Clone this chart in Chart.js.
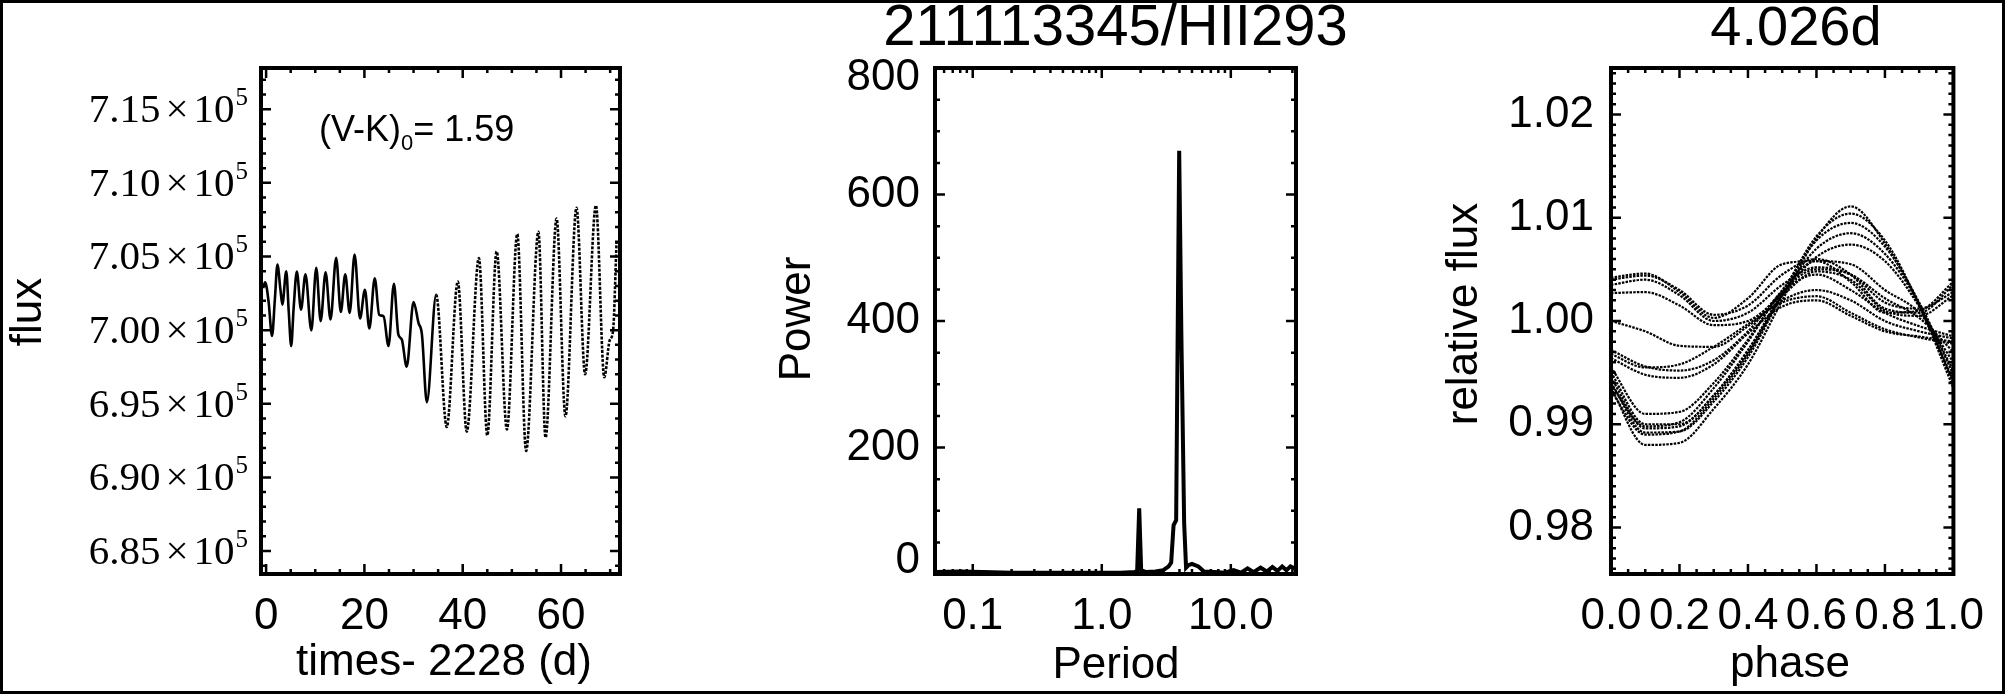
<!DOCTYPE html>
<html>
<head>
<meta charset="utf-8">
<script src="https://cdn.jsdelivr.net/npm/chart.js@4.4.1/dist/chart.umd.min.js"></script>
<style>
html,body{margin:0;padding:0;background:#fff;}
#wrap{position:relative;width:2005px;height:694px;overflow:hidden;background:#fff;}
#wrap canvas{position:absolute;left:0;top:0;width:2005px;height:694px;}
#frame{position:absolute;left:0;top:0;width:2005px;height:694px;box-sizing:border-box;border:3px solid #000;pointer-events:none;}
</style>
</head>
<body>
<div id="wrap">
<canvas id="c1" width="2005" height="694"></canvas>
<canvas id="c2" width="2005" height="694"></canvas>
<canvas id="c3" width="2005" height="694"></canvas>
<div id="frame"></div>
</div>
<script>
// ---------------- DATA ----------------
// Panel 1: light curve (time - 2228 d, flux)
const lcDays = [-0.6, -0.2, 0.5, 1.2, 1.8, 2.3, 2.9, 3.3, 4.1, 4.6, 5.1, 5.6, 6.25, 7.1, 8.0, 9.2, 10.2, 11.1, 12.1, 13.1, 14.25, 15.2, 16.1, 17.0, 18.0, 19.1, 20.1, 21.0, 22.1, 23.0, 23.9, 24.9, 26.0, 26.9, 27.6, 28.6, 30.0, 31.0, 31.7, 32.7, 34.6, 36.75, 39.0, 40.82, 43.3, 45.0, 46.9, 49.0, 51.1, 52.9, 55.4, 56.85, 59.1, 60.9, 63.15, 64.9, 67.1, 68.8, 69.9, 70.6, 71.3];
const lcFlux = [702850, 703250, 701950, 699600, 702180, 704460, 702800, 701730, 704000, 701280, 698920, 701500, 703970, 701390, 703790, 699980, 704240, 700610, 703930, 700720, 704910, 701230, 703790, 701170, 705140, 700790, 702740, 700110, 703520, 701050, 700940, 698920, 703140, 699710, 699370, 697510, 701910, 700490, 699710, 695110, 702400, 693420, 703300, 693110, 704900, 692850, 705340, 693250, 706530, 691800, 706680, 692700, 707570, 694150, 708310, 697000, 708470, 696800, 699300, 700000, 706000];
const lcXTicks = [0, 20, 40, 60];
const lcYTicks = [685000, 690000, 695000, 700000, 705000, 710000, 715000];
const colourIndex = '(V-K)';
const colourSub = '0';
const colourValue = '= 1.59';

// Panel 2: periodogram
const pgPeriod = [0.051, 0.08, 0.12, 0.2, 0.4, 0.8, 1.4, 1.8, 1.88, 1.95, 2.02, 2.2, 2.6, 3.0, 3.3, 3.45, 3.6, 3.77, 3.98, 4.14, 4.35, 4.5, 4.7, 5.0, 5.6, 6.2, 7.5, 9.0, 10.5, 12.0, 13.5, 15.0, 17.0, 19.0, 21.0, 23.0, 25.0, 27.0, 29.0, 32.0];
const pgPower = [3, 4, 3, 2, 2, 2, 2, 3, 5, 104, 6, 3, 4, 6, 12, 18, 77, 85, 669, 375, 80, 10, 14, 16, 12, 4, 3, 2, 6, 2, 9, 3, 10, 4, 11, 5, 12, 6, 12, 8];
const pgXTicks = [0.1, 1, 10];
const pgYTicks = [0, 200, 400, 600, 800];
const starTitle = '211113345/HII293';

// Panel 3: phase-folded light curve, one array per cycle
const phaseGrid = [0, 0.1, 0.2, 0.3, 0.4, 0.5, 0.6, 0.7, 0.8, 0.9, 1.0];
const foldA1 = [1.0042, 1.0046, 1.0028, 1.0003, 1.0022, 1.0055, 1.0058, 1.0038, 1.0008, 1.0010, 1.0038];
const foldA2 = [1.0040, 1.0044, 1.0030, 1.0006, 1.0015, 1.0045, 1.0060, 1.0045, 1.0012, 1.0008, 1.0035];
const foldA3 = [1.0035, 1.0040, 1.0025, 1.0000, 1.0008, 1.0035, 1.0052, 1.0045, 1.0018, 1.0012, 1.0028];
const foldA4 = [1.0027, 1.0028, 1.0015, 0.9996, 1.0000, 1.0025, 1.0048, 1.0040, 1.0010, 1.0005, 1.0025];
const foldB1 = [0.9935, 0.9880, 0.9882, 0.9915, 0.9958, 1.0020, 1.0080, 1.0111, 1.0075, 1.0015, 0.9935];
const foldB2 = [0.9940, 0.9892, 0.9893, 0.9922, 0.9965, 1.0025, 1.0082, 1.0104, 1.0078, 1.0016, 0.9942];
const foldB3 = [0.9945, 0.9896, 0.9898, 0.9928, 0.9970, 1.0028, 1.0078, 1.0095, 1.0072, 1.0018, 0.9948];
const foldB4 = [0.9932, 0.9890, 0.9893, 0.9925, 0.9968, 1.0025, 1.0070, 1.0085, 1.0065, 1.0016, 0.9940];
const foldB5 = [0.9950, 0.9900, 0.9900, 0.9928, 0.9972, 1.0025, 1.0062, 1.0074, 1.0058, 1.0014, 0.9952];
const foldB6 = [0.9938, 0.9898, 0.9902, 0.9935, 0.9980, 1.0030, 1.0058, 1.0055, 1.0030, 1.0008, 0.9960];
const foldB7 = [0.9955, 0.9910, 0.9912, 0.9940, 0.9982, 1.0028, 1.0050, 1.0045, 1.0022, 1.0003, 0.9970];
const foldC1 = [0.9972, 0.9956, 0.9952, 0.9962, 0.9990, 1.0028, 1.0045, 1.0030, 1.0008, 0.9995, 0.9985];
const foldC2 = [1.0000, 0.9990, 0.9976, 0.9975, 0.9995, 1.0020, 1.0030, 1.0020, 1.0000, 0.9990, 0.9983];
const foldC3 = [0.9968, 0.9955, 0.9958, 0.9975, 0.9997, 1.0018, 1.0024, 1.0008, 0.9992, 0.9984, 0.9978];
const foldC4 = [0.9964, 0.9948, 0.9945, 0.9958, 0.9988, 1.0014, 1.0020, 1.0005, 0.9990, 0.9985, 0.9980];
const phXTicks = [0, 0.2, 0.4, 0.6, 0.8, 1.0];
const phYTicks = [0.98, 0.99, 1.00, 1.01, 1.02];
const periodTitle = '4.026d';

// ---------------- LAYOUT / STYLE ----------------
const W = 2005, H = 694;
const SANS = "'Liberation Sans', Arial, Helvetica, sans-serif";
const SERIF = "'Liberation Serif', 'Times New Roman', serif";
const boxLC = {left: 261, top: 68, right: 620, bottom: 574};
const boxPG = {left: 935, top: 68, right: 1296, bottom: 574};
const boxPH = {left: 1611, top: 68, right: 1970, bottom: 574};
const EDGE = 4;

function steps(a, b, s) { const out = []; for (let v = a; v <= b + 1e-9; v += s) out.push(+v.toFixed(6)); return out; }
function logMinors(lo, hi) { const out = []; for (let d = -3; d <= 3; d++) for (let k = 2; k <= 9; k++) { const v = k * Math.pow(10, d); if (v > lo && v < hi) out.push(v); } return out; }

function text(ctx, s, x, y, size, opts = {}) {
  ctx.save();
  ctx.font = size + 'px ' + (opts.family || SANS);
  ctx.fillStyle = '#000';
  ctx.textAlign = opts.align || 'center';
  ctx.textBaseline = opts.baseline || 'alphabetic';
  ctx.translate(x, y);
  if (opts.rot) ctx.rotate(opts.rot);
  ctx.fillText(s, 0, 0);
  ctx.restore();
}

function framePlugin(spec) {
  return {
    id: 'idlframe_' + spec.name,
    afterDraw(chart) {
      const ctx = chart.ctx, a = chart.chartArea, xs = chart.scales.x, ys = chart.scales.y;
      ctx.save();
      ctx.strokeStyle = '#000';
      ctx.lineWidth = 2.5;
      ctx.beginPath();
      const dx = (vals, len) => vals.forEach(v => {
        const p = xs.getPixelForValue(v);
        if (p <= a.left + 2 || p >= a.right - 2) return;
        ctx.moveTo(p, a.bottom); ctx.lineTo(p, a.bottom - len);
        ctx.moveTo(p, a.top); ctx.lineTo(p, a.top + len);
      });
      const dy = (vals, len) => vals.forEach(v => {
        const p = ys.getPixelForValue(v);
        if (p <= a.top + 2 || p >= a.bottom - 2) return;
        ctx.moveTo(a.left, p); ctx.lineTo(a.left + len, p);
        ctx.moveTo(a.right, p); ctx.lineTo(a.right - len, p);
      });
      dx(spec.xMajor, 10); dx(spec.xMinor, 5);
      dy(spec.yMajor, 10); dy(spec.yMinor, 5);
      ctx.stroke();
      ctx.lineWidth = 4;
      ctx.strokeRect(a.left, a.top, a.right - a.left, a.bottom - a.top);
      ctx.restore();
      if (spec.texts) spec.texts(ctx, chart);
    }
  };
}

function axis(box, pos, type, min, max, tickVals, fmt, tickOpts) {
  const horizontal = pos === 'bottom';
  const size = horizontal ? (H - box.bottom - EDGE) : (box.left - EDGE);
  return {
    type, position: pos, min, max,
    grid: {display: false, drawTicks: false},
    border: {display: false},
    afterBuildTicks: s => { s.ticks = tickVals.map(v => ({value: v})); },
    afterFit: s => { if (horizontal) s.height = size; else s.width = size; },
    ticks: Object.assign({
      autoSkip: false, maxRotation: 0, minRotation: 0, color: '#000',
      font: {family: SANS, size: 44, lineHeight: 1},
      padding: horizontal ? 21 : 15,
      callback: v => fmt(v)
    }, tickOpts || {})
  };
}

function makeChart(id, box, datasets, xs, ys, plugin) {
  return new Chart(document.getElementById(id), {
    type: 'line',
    data: {datasets},
    options: {
      responsive: false, maintainAspectRatio: false, animation: false, devicePixelRatio: 1, events: [],
      layout: {padding: {left: EDGE, top: box.top, right: W - box.right, bottom: EDGE}},
      plugins: {legend: {display: false}, tooltip: {enabled: false}, title: {display: false}},
      elements: {point: {radius: 0}},
      scales: {x: xs, y: ys}
    },
    plugins: [plugin]
  });
}

// ---------------- PANEL 1 ----------------
makeChart('c1', boxLC,
  [{data: lcDays.map((d, i) => ({x: d, y: lcFlux[i]})), borderColor: '#000', borderWidth: 2.6,
    pointRadius: 0, cubicInterpolationMode: 'monotone', fill: false,
    segment: {borderDash: c => (c.p0.parsed.x > 33 ? [3, 1.5] : undefined)}}],
  axis(boxLC, 'bottom', 'linear', -1.04, 72, lcXTicks, v => String(v)),
  axis(boxLC, 'left', 'linear', 683440, 717800, lcYTicks, v => String(v), {display: false}),
  framePlugin({
    name: 'lc', xMajor: lcXTicks, xMinor: steps(0, 72, 5).filter(v => !lcXTicks.includes(v)),
    yMajor: lcYTicks, yMinor: steps(684000, 717000, 1000).filter(v => !lcYTicks.includes(v)),
    texts(ctx, chart) {
      const ys = chart.scales.y;
      ys.ticks.forEach(t => {
        const y = ys.getPixelForValue(t.value);
        const main = (t.value / 1e5).toFixed(2);
        ctx.save();
        ctx.fillStyle = '#000'; ctx.textBaseline = 'alphabetic'; ctx.textAlign = 'left';
        ctx.font = '41px ' + SERIF;
        const wMain = ctx.measureText(main).width, wTimes = ctx.measureText('\u00d7').width, wTen = ctx.measureText('10').width;
        ctx.font = '25px ' + SERIF;
        const wSup = ctx.measureText('5').width;
        const gap = 5;
        const end = 248;
        let x = end - (wMain + gap + wTimes + gap + wTen + 1 + wSup);
        ctx.font = '41px ' + SERIF;
        ctx.fillText(main, x, y + 13); x += wMain + gap;
        ctx.fillText('\u00d7', x, y + 13); x += wTimes + gap;
        ctx.fillText('10', x, y + 13); x += wTen + 1;
        ctx.font = '25px ' + SERIF;
        ctx.fillText('5', x, y - 4);
        ctx.restore();
      });
      text(ctx, 'flux', 41, 312, 44, {rot: -Math.PI / 2});
      text(ctx, 'times- 2228 (d)', 444, 675, 44);
      ctx.save();
      ctx.fillStyle = '#000'; ctx.textBaseline = 'alphabetic'; ctx.textAlign = 'left';
      ctx.font = '36px ' + SANS;
      let x = 319;
      ctx.fillText(colourIndex, x, 141); x += ctx.measureText(colourIndex).width;
      ctx.font = '22px ' + SANS;
      ctx.fillText(colourSub, x, 150); x += ctx.measureText(colourSub).width;
      ctx.font = '36px ' + SANS;
      ctx.fillText(colourValue, x, 141);
      ctx.restore();
    }
  })
);

// ---------------- PANEL 2 ----------------
makeChart('c2', boxPG,
  [{data: pgPeriod.map((p, i) => ({x: p, y: pgPower[i]})), borderColor: '#000', borderWidth: 4,
    pointRadius: 0, tension: 0, fill: false}],
  axis(boxPG, 'bottom', 'logarithmic', 0.051, 32, pgXTicks, v => Number(v).toFixed(1)),
  axis(boxPG, 'left', 'linear', 0, 800, pgYTicks, v => String(v), {display: false}),
  framePlugin({
    name: 'pg', xMajor: pgXTicks, xMinor: logMinors(0.051, 32),
    yMajor: pgYTicks, yMinor: steps(0, 800, 50).filter(v => !pgYTicks.includes(v)),
    texts(ctx, chart) {
      const a = chart.chartArea, ys = chart.scales.y;
      // y tick labels; the end labels sit slightly inside the frame as in the original
      ys.ticks.forEach(t => {
        let y = ys.getPixelForValue(t.value);
        if (y >= a.bottom - 1) y -= 13;
        if (y <= a.top + 1) y += 10;
        text(ctx, String(t.value), a.left - 15, y, 44, {align: 'right', baseline: 'middle'});
      });
      text(ctx, starTitle, (a.left + a.right) / 2, 45, 58);
      text(ctx, 'Power', 810, 319, 44, {rot: -Math.PI / 2});
      text(ctx, 'Period', 1116, 678, 44);
    }
  })
);

// ---------------- PANEL 3 ----------------
const foldSets = [foldA1, foldA2, foldA3, foldA4, foldB1, foldB2, foldB3, foldB4, foldB5, foldB6, foldB7, foldC1, foldC2, foldC3, foldC4];
makeChart('c3', boxPH,
  foldSets.map(arr => ({
    data: phaseGrid.map((p, i) => ({x: p, y: arr[i]})), borderColor: '#000', borderWidth: 2.2,
    borderDash: [2.5, 1.2], pointRadius: 0, cubicInterpolationMode: 'monotone', fill: false
  })),
  axis(boxPH, 'bottom', 'linear', 0, 1, phXTicks, v => Number(v).toFixed(1)),
  axis(boxPH, 'left', 'linear', 0.9755, 1.0245, phYTicks, v => Number(v).toFixed(2), {padding: 17}),
  framePlugin({
    name: 'ph', xMajor: phXTicks, xMinor: steps(0, 1, 0.05).filter(v => !phXTicks.some(t => Math.abs(t - v) < 1e-6)),
    yMajor: phYTicks, yMinor: steps(0.976, 1.024, 0.001).filter(v => !phYTicks.some(t => Math.abs(t - v) < 1e-6)),
    texts(ctx, chart) {
      text(ctx, periodTitle, 1796, 45, 56);
      text(ctx, 'relative flux', 1477, 314, 44, {rot: -Math.PI / 2});
      text(ctx, 'phase', 1790, 677, 44);
    }
  })
);
</script>
</body>
</html>
